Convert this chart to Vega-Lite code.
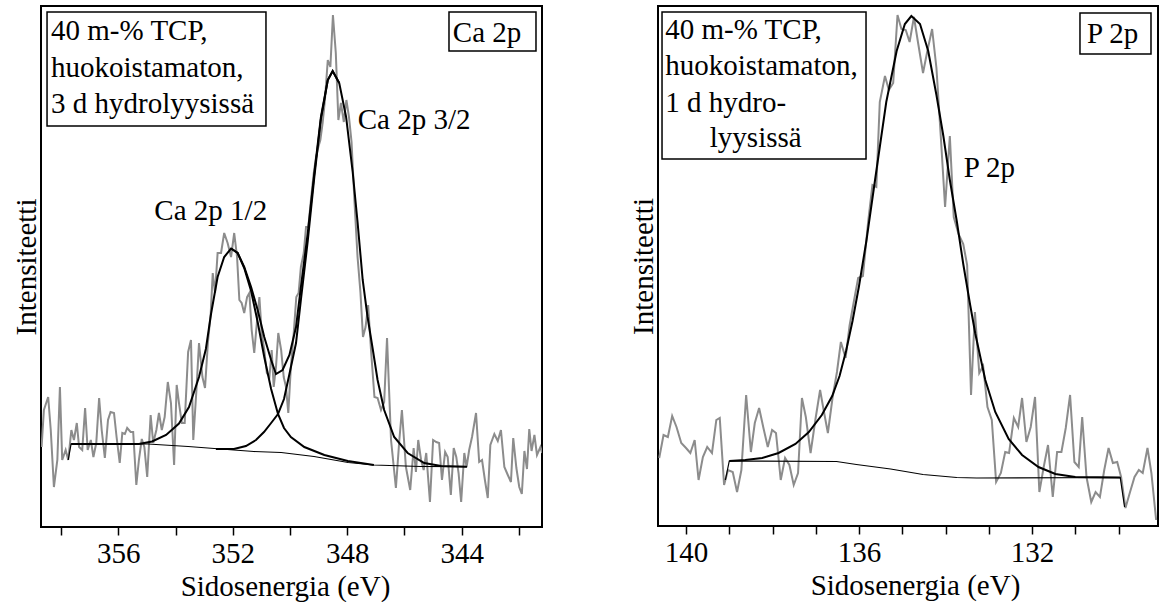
{
"$schema": "https://vega.github.io/schema/vega-lite/v6.json",
"background": "white",
"padding": {"left": 11, "top": 5, "right": 0, "bottom": 0},
"spacing": 85,
"config": {
 "view": {"stroke": "black", "strokeWidth": 2},
 "axis": {"labelFont": "Liberation Serif", "titleFont": "Liberation Serif", "labelFontSize": 29, "titleFontSize": 29, "titleFontWeight": "normal", "labelColor": "black", "titleColor": "black", "tickColor": "black", "grid": false},
 "text": {"font": "Liberation Serif"}
},
"datasets": {
 "ca": [
{"e":358.68,"i":80,"s":"d"},{"e":358.60,"i":117,"s":"d"},{"e":358.45,"i":130,"s":"d"},{"e":358.36,"i":97,"s":"d"},{"e":358.25,"i":40,"s":"d"},{"e":358.13,"i":67,"s":"d"},{"e":358.04,"i":140,"s":"d"},{"e":357.96,"i":67,"s":"d"},{"e":357.84,"i":77,"s":"d"},{"e":357.75,"i":67,"s":"d"},{"e":357.64,"i":97,"s":"d"},{"e":357.55,"i":87,"s":"d"},{"e":357.45,"i":104,"s":"d"},{"e":357.37,"i":80,"s":"d"},{"e":357.26,"i":77,"s":"d"},{"e":357.16,"i":119,"s":"d"},{"e":357.07,"i":77,"s":"d"},{"e":356.96,"i":87,"s":"d"},{"e":356.87,"i":70,"s":"d"},{"e":356.77,"i":84,"s":"d"},{"e":356.67,"i":129,"s":"d"},{"e":356.58,"i":97,"s":"d"},{"e":356.47,"i":69,"s":"d"},{"e":356.36,"i":107,"s":"d"},{"e":356.27,"i":115,"s":"d"},{"e":356.15,"i":114,"s":"d"},{"e":356.06,"i":90,"s":"d"},{"e":355.95,"i":64,"s":"d"},{"e":355.86,"i":94,"s":"d"},{"e":355.77,"i":93,"s":"d"},{"e":355.69,"i":99,"s":"d"},{"e":355.57,"i":95,"s":"d"},{"e":355.48,"i":95,"s":"d"},{"e":355.37,"i":42,"s":"d"},{"e":355.28,"i":67,"s":"d"},{"e":355.18,"i":88,"s":"d"},{"e":355.09,"i":80,"s":"d"},{"e":354.99,"i":50,"s":"d"},{"e":354.87,"i":112,"s":"d"},{"e":354.78,"i":84,"s":"d"},{"e":354.67,"i":97,"s":"d"},{"e":354.58,"i":114,"s":"d"},{"e":354.48,"i":97,"s":"d"},{"e":354.38,"i":110,"s":"d"},{"e":354.27,"i":145,"s":"d"},{"e":354.16,"i":124,"s":"d"},{"e":354.05,"i":62,"s":"d"},{"e":353.96,"i":142,"s":"d"},{"e":353.88,"i":124,"s":"d"},{"e":353.78,"i":104,"s":"d"},{"e":353.68,"i":104,"s":"d"},{"e":353.56,"i":175,"s":"d"},{"e":353.46,"i":187,"s":"d"},{"e":353.38,"i":87,"s":"d"},{"e":353.27,"i":137,"s":"d"},{"e":353.18,"i":184,"s":"d"},{"e":353.06,"i":150,"s":"d"},{"e":352.97,"i":139,"s":"d"},{"e":352.87,"i":184,"s":"d"},{"e":352.77,"i":214,"s":"d"},{"e":352.70,"i":254,"s":"d"},{"e":352.62,"i":234,"s":"d"},{"e":352.53,"i":274,"s":"d"},{"e":352.41,"i":274,"s":"d"},{"e":352.30,"i":294,"s":"d"},{"e":352.18,"i":284,"s":"d"},{"e":352.06,"i":270,"s":"d"},{"e":351.95,"i":294,"s":"d"},{"e":351.85,"i":270,"s":"d"},{"e":351.77,"i":227,"s":"d"},{"e":351.69,"i":224,"s":"d"},{"e":351.60,"i":214,"s":"d"},{"e":351.50,"i":230,"s":"d"},{"e":351.42,"i":234,"s":"d"},{"e":351.34,"i":197,"s":"d"},{"e":351.25,"i":174,"s":"d"},{"e":351.15,"i":207,"s":"d"},{"e":351.07,"i":230,"s":"d"},{"e":350.99,"i":194,"s":"d"},{"e":350.90,"i":177,"s":"d"},{"e":350.81,"i":154,"s":"d"},{"e":350.72,"i":150,"s":"d"},{"e":350.64,"i":177,"s":"d"},{"e":350.57,"i":140,"s":"d"},{"e":350.49,"i":160,"s":"d"},{"e":350.41,"i":194,"s":"d"},{"e":350.31,"i":177,"s":"d"},{"e":350.22,"i":150,"s":"d"},{"e":350.14,"i":140,"s":"d"},{"e":350.06,"i":114,"s":"d"},{"e":349.97,"i":160,"s":"d"},{"e":349.87,"i":194,"s":"d"},{"e":349.78,"i":230,"s":"d"},{"e":349.70,"i":234,"s":"d"},{"e":349.62,"i":260,"s":"d"},{"e":349.52,"i":274,"s":"d"},{"e":349.44,"i":300,"s":"d"},{"e":349.36,"i":300,"s":"d"},{"e":349.27,"i":327,"s":"d"},{"e":349.17,"i":354,"s":"d"},{"e":349.09,"i":370,"s":"d"},{"e":349.01,"i":380,"s":"d"},{"e":348.94,"i":387,"s":"d"},{"e":348.86,"i":404,"s":"d"},{"e":348.78,"i":427,"s":"d"},{"e":348.68,"i":467,"s":"d"},{"e":348.59,"i":460,"s":"d"},{"e":348.50,"i":512,"s":"d"},{"e":348.40,"i":474,"s":"d"},{"e":348.31,"i":407,"s":"d"},{"e":348.22,"i":424,"s":"d"},{"e":348.12,"i":405,"s":"d"},{"e":348.03,"i":427,"s":"d"},{"e":347.94,"i":410,"s":"d"},{"e":347.85,"i":385,"s":"d"},{"e":347.75,"i":327,"s":"d"},{"e":347.64,"i":270,"s":"d"},{"e":347.54,"i":235,"s":"d"},{"e":347.45,"i":190,"s":"d"},{"e":347.36,"i":200,"s":"d"},{"e":347.27,"i":222,"s":"d"},{"e":347.17,"i":177,"s":"d"},{"e":347.05,"i":130,"s":"d"},{"e":346.94,"i":129,"s":"d"},{"e":346.82,"i":117,"s":"d"},{"e":346.71,"i":125,"s":"d"},{"e":346.61,"i":189,"s":"d"},{"e":346.47,"i":87,"s":"d"},{"e":346.30,"i":39,"s":"d"},{"e":346.18,"i":87,"s":"d"},{"e":346.09,"i":117,"s":"d"},{"e":345.95,"i":60,"s":"d"},{"e":345.80,"i":37,"s":"d"},{"e":345.68,"i":79,"s":"d"},{"e":345.60,"i":55,"s":"d"},{"e":345.52,"i":87,"s":"d"},{"e":345.42,"i":67,"s":"d"},{"e":345.33,"i":57,"s":"d"},{"e":345.24,"i":74,"s":"d"},{"e":345.11,"i":25,"s":"d"},{"e":345.00,"i":87,"s":"d"},{"e":344.89,"i":85,"s":"d"},{"e":344.79,"i":84,"s":"d"},{"e":344.69,"i":47,"s":"d"},{"e":344.58,"i":75,"s":"d"},{"e":344.49,"i":70,"s":"d"},{"e":344.38,"i":32,"s":"d"},{"e":344.28,"i":79,"s":"d"},{"e":344.19,"i":70,"s":"d"},{"e":344.11,"i":54,"s":"d"},{"e":344.02,"i":25,"s":"d"},{"e":343.91,"i":74,"s":"d"},{"e":343.83,"i":60,"s":"d"},{"e":343.74,"i":77,"s":"d"},{"e":343.64,"i":90,"s":"d"},{"e":343.50,"i":114,"s":"d"},{"e":343.39,"i":65,"s":"d"},{"e":343.29,"i":67,"s":"d"},{"e":343.19,"i":47,"s":"d"},{"e":343.09,"i":29,"s":"d"},{"e":343.00,"i":82,"s":"d"},{"e":342.86,"i":93,"s":"d"},{"e":342.74,"i":86,"s":"d"},{"e":342.63,"i":97,"s":"d"},{"e":342.51,"i":60,"s":"d"},{"e":342.39,"i":52,"s":"d"},{"e":342.28,"i":45,"s":"d"},{"e":342.20,"i":89,"s":"d"},{"e":342.09,"i":59,"s":"d"},{"e":341.99,"i":40,"s":"d"},{"e":341.90,"i":33,"s":"d"},{"e":341.81,"i":76,"s":"d"},{"e":341.72,"i":58,"s":"d"},{"e":341.64,"i":98,"s":"d"},{"e":341.56,"i":76,"s":"d"},{"e":341.46,"i":92,"s":"d"},{"e":341.37,"i":72,"s":"d"},{"e":341.25,"i":80,"s":"d"},{"e":341.19,"i":74,"s":"d"},
{"e":357.65,"i":83,"s":"f"},{"e":355.28,"i":83,"s":"f"},{"e":354.82,"i":85.5,"s":"f"},{"e":354.33,"i":92,"s":"f"},{"e":353.88,"i":103.5,"s":"f"},{"e":353.53,"i":120,"s":"f"},{"e":353.18,"i":150,"s":"f"},{"e":352.94,"i":178,"s":"f"},{"e":352.76,"i":213,"s":"f"},{"e":352.53,"i":250,"s":"f"},{"e":352.30,"i":270,"s":"f"},{"e":352.06,"i":278.5,"s":"f"},{"e":351.83,"i":274,"s":"f"},{"e":351.60,"i":260,"s":"f"},{"e":351.36,"i":240,"s":"f"},{"e":351.13,"i":217,"s":"f"},{"e":350.90,"i":190,"s":"f"},{"e":350.66,"i":167,"s":"f"},{"e":350.49,"i":153,"s":"f"},{"e":350.26,"i":157,"s":"f"},{"e":350.02,"i":172,"s":"f"},{"e":349.79,"i":200,"s":"f"},{"e":349.62,"i":240,"s":"f"},{"e":349.38,"i":294,"s":"f"},{"e":349.15,"i":354,"s":"f"},{"e":348.92,"i":410,"s":"f"},{"e":348.68,"i":447,"s":"f"},{"e":348.51,"i":456,"s":"f"},{"e":348.28,"i":444,"s":"f"},{"e":348.04,"i":410,"s":"f"},{"e":347.81,"i":355,"s":"f"},{"e":347.64,"i":305,"s":"f"},{"e":347.46,"i":247,"s":"f"},{"e":347.29,"i":210,"s":"f"},{"e":347.11,"i":178,"s":"f"},{"e":346.94,"i":147,"s":"f"},{"e":346.71,"i":117,"s":"f"},{"e":346.36,"i":90,"s":"f"},{"e":345.89,"i":74,"s":"f"},{"e":345.31,"i":64,"s":"f"},{"e":344.72,"i":61,"s":"f"},{"e":343.82,"i":60.3,"s":"f"},
{"e":352.06,"i":278.5,"s":"c1"},{"e":351.83,"i":274,"s":"c1"},{"e":351.60,"i":259,"s":"c1"},{"e":351.36,"i":236,"s":"c1"},{"e":351.13,"i":205,"s":"c1"},{"e":350.90,"i":170,"s":"c1"},{"e":350.66,"i":138,"s":"c1"},{"e":350.42,"i":113,"s":"c1"},{"e":350.21,"i":99,"s":"c1"},{"e":349.97,"i":90,"s":"c1"},{"e":349.50,"i":80,"s":"c1"},{"e":348.80,"i":72,"s":"c1"},{"e":347.98,"i":66,"s":"c1"},{"e":347.07,"i":62,"s":"c1"},
{"e":352.59,"i":78,"s":"c2"},{"e":351.96,"i":78,"s":"c2"},{"e":351.54,"i":81,"s":"c2"},{"e":351.19,"i":87,"s":"c2"},{"e":350.91,"i":95,"s":"c2"},{"e":350.66,"i":104,"s":"c2"},{"e":350.42,"i":113,"s":"c2"},{"e":350.21,"i":128,"s":"c2"},{"e":350.02,"i":153,"s":"c2"},{"e":349.79,"i":184,"s":"c2"},{"e":349.62,"i":227,"s":"c2"},{"e":349.38,"i":286,"s":"c2"},{"e":349.15,"i":350,"s":"c2"},{"e":348.92,"i":408,"s":"c2"},{"e":348.68,"i":447,"s":"c2"},{"e":348.51,"i":456,"s":"c2"},{"e":348.28,"i":444,"s":"c2"},
{"e":357.75,"i":67,"s":"bg"},{"e":357.65,"i":83,"s":"bg"},{"e":354.96,"i":83,"s":"bg"},{"e":353.56,"i":80.5,"s":"bg"},{"e":351.96,"i":77,"s":"bg"},{"e":351.26,"i":75.5,"s":"bg"},{"e":350.31,"i":74.5,"s":"bg"},{"e":349.16,"i":70.5,"s":"bg"},{"e":347.97,"i":64.5,"s":"bg"},{"e":347.07,"i":62,"s":"bg"},{"e":345.42,"i":60.5,"s":"bg"},{"e":343.82,"i":60.3,"s":"bg"}
 ],
 "p": [
{"e":140.62,"i":68,"s":"d"},{"e":140.52,"i":91,"s":"d"},{"e":140.42,"i":89,"s":"d"},{"e":140.32,"i":110,"s":"d"},{"e":140.22,"i":99,"s":"d"},{"e":140.11,"i":83,"s":"d"},{"e":140.00,"i":78,"s":"d"},{"e":139.90,"i":73,"s":"d"},{"e":139.80,"i":86,"s":"d"},{"e":139.71,"i":46,"s":"d"},{"e":139.61,"i":69,"s":"d"},{"e":139.51,"i":79,"s":"d"},{"e":139.40,"i":73,"s":"d"},{"e":139.30,"i":106,"s":"d"},{"e":139.22,"i":108,"s":"d"},{"e":139.12,"i":41,"s":"d"},{"e":139.03,"i":56,"s":"d"},{"e":138.92,"i":54,"s":"d"},{"e":138.82,"i":34,"s":"d"},{"e":138.72,"i":56,"s":"d"},{"e":138.61,"i":131,"s":"d"},{"e":138.50,"i":74,"s":"d"},{"e":138.41,"i":103,"s":"d"},{"e":138.31,"i":118,"s":"d"},{"e":138.21,"i":98,"s":"d"},{"e":138.11,"i":79,"s":"d"},{"e":138.01,"i":96,"s":"d"},{"e":137.92,"i":93,"s":"d"},{"e":137.81,"i":46,"s":"d"},{"e":137.71,"i":68,"s":"d"},{"e":137.61,"i":61,"s":"d"},{"e":137.51,"i":41,"s":"d"},{"e":137.41,"i":53,"s":"d"},{"e":137.32,"i":128,"s":"d"},{"e":137.23,"i":109,"s":"d"},{"e":137.12,"i":73,"s":"d"},{"e":137.01,"i":106,"s":"d"},{"e":136.90,"i":136,"s":"d"},{"e":136.81,"i":114,"s":"d"},{"e":136.72,"i":93,"s":"d"},{"e":136.61,"i":129,"s":"d"},{"e":136.51,"i":154,"s":"d"},{"e":136.42,"i":184,"s":"d"},{"e":136.31,"i":168,"s":"d"},{"e":136.22,"i":200,"s":"d"},{"e":136.13,"i":222,"s":"d"},{"e":136.02,"i":248,"s":"d"},{"e":135.91,"i":250,"s":"d"},{"e":135.79,"i":304,"s":"d"},{"e":135.69,"i":341,"s":"d"},{"e":135.60,"i":339,"s":"d"},{"e":135.52,"i":424,"s":"d"},{"e":135.40,"i":450,"s":"d"},{"e":135.31,"i":436,"s":"d"},{"e":135.21,"i":443,"s":"d"},{"e":135.11,"i":511,"s":"d"},{"e":135.02,"i":497,"s":"d"},{"e":134.92,"i":496,"s":"d"},{"e":134.83,"i":484,"s":"d"},{"e":134.73,"i":509,"s":"d"},{"e":134.63,"i":482,"s":"d"},{"e":134.52,"i":453,"s":"d"},{"e":134.42,"i":475,"s":"d"},{"e":134.31,"i":497,"s":"d"},{"e":134.21,"i":458,"s":"d"},{"e":134.11,"i":390,"s":"d"},{"e":134.01,"i":319,"s":"d"},{"e":133.90,"i":390,"s":"d"},{"e":133.81,"i":309,"s":"d"},{"e":133.70,"i":292,"s":"d"},{"e":133.59,"i":282,"s":"d"},{"e":133.50,"i":261,"s":"d"},{"e":133.41,"i":131,"s":"d"},{"e":133.32,"i":214,"s":"d"},{"e":133.22,"i":153,"s":"d"},{"e":133.13,"i":160,"s":"d"},{"e":133.03,"i":119,"s":"d"},{"e":132.93,"i":106,"s":"d"},{"e":132.83,"i":44,"s":"d"},{"e":132.72,"i":53,"s":"d"},{"e":132.62,"i":74,"s":"d"},{"e":132.53,"i":73,"s":"d"},{"e":132.42,"i":108,"s":"d"},{"e":132.32,"i":99,"s":"d"},{"e":132.23,"i":128,"s":"d"},{"e":132.13,"i":84,"s":"d"},{"e":132.03,"i":99,"s":"d"},{"e":131.93,"i":129,"s":"d"},{"e":131.83,"i":34,"s":"d"},{"e":131.73,"i":59,"s":"d"},{"e":131.63,"i":81,"s":"d"},{"e":131.52,"i":29,"s":"d"},{"e":131.42,"i":74,"s":"d"},{"e":131.32,"i":74,"s":"d"},{"e":131.22,"i":98,"s":"d"},{"e":131.12,"i":131,"s":"d"},{"e":131.02,"i":64,"s":"d"},{"e":130.92,"i":59,"s":"d"},{"e":130.84,"i":109,"s":"d"},{"e":130.74,"i":49,"s":"d"},{"e":130.63,"i":24,"s":"d"},{"e":130.53,"i":34,"s":"d"},{"e":130.43,"i":29,"s":"d"},{"e":130.33,"i":56,"s":"d"},{"e":130.23,"i":78,"s":"d"},{"e":130.13,"i":63,"s":"d"},{"e":130.03,"i":64,"s":"d"},{"e":129.94,"i":49,"s":"d"},{"e":129.84,"i":18,"s":"d"},{"e":129.74,"i":33,"s":"d"},{"e":129.63,"i":49,"s":"d"},{"e":129.53,"i":56,"s":"d"},{"e":129.44,"i":53,"s":"d"},{"e":129.33,"i":78,"s":"d"},{"e":129.24,"i":53,"s":"d"},{"e":129.13,"i":6,"s":"d"},
{"e":139.00,"i":65,"s":"f"},{"e":138.63,"i":66,"s":"f"},{"e":138.24,"i":68,"s":"f"},{"e":137.86,"i":73,"s":"f"},{"e":137.47,"i":82,"s":"f"},{"e":137.16,"i":94,"s":"f"},{"e":136.86,"i":111,"s":"f"},{"e":136.62,"i":130,"s":"f"},{"e":136.45,"i":150,"s":"f"},{"e":136.30,"i":175,"s":"f"},{"e":136.15,"i":205,"s":"f"},{"e":136.00,"i":240,"s":"f"},{"e":135.83,"i":285,"s":"f"},{"e":135.60,"i":355,"s":"f"},{"e":135.37,"i":424,"s":"f"},{"e":135.13,"i":475,"s":"f"},{"e":134.94,"i":502,"s":"f"},{"e":134.79,"i":510,"s":"f"},{"e":134.59,"i":502,"s":"f"},{"e":134.40,"i":475,"s":"f"},{"e":134.21,"i":431,"s":"f"},{"e":134.05,"i":390,"s":"f"},{"e":133.90,"i":346,"s":"f"},{"e":133.74,"i":305,"s":"f"},{"e":133.59,"i":262,"s":"f"},{"e":133.43,"i":221,"s":"f"},{"e":133.31,"i":192,"s":"f"},{"e":133.08,"i":146,"s":"f"},{"e":132.85,"i":114,"s":"f"},{"e":132.54,"i":87,"s":"f"},{"e":132.23,"i":71,"s":"f"},{"e":131.85,"i":59,"s":"f"},{"e":131.46,"i":52,"s":"f"},{"e":131.00,"i":49,"s":"f"},{"e":129.96,"i":48.5,"s":"f"},
{"e":139.09,"i":46,"s":"bg"},{"e":139.00,"i":65,"s":"bg"},{"e":136.52,"i":64.5,"s":"bg"},{"e":136.06,"i":61.5,"s":"bg"},{"e":135.27,"i":57,"s":"bg"},{"e":134.52,"i":51.5,"s":"bg"},{"e":133.74,"i":48.5,"s":"bg"},{"e":133.28,"i":48,"s":"bg"},{"e":129.96,"i":48.5,"s":"bg"},{"e":129.86,"i":19,"s":"bg"}
 ],
 "caBox": [{"e":358.49,"e2":350.84,"i":515,"i2":401},{"e":344.445,"e2":341.405,"i":515,"i2":476}],
 "caText": [{"e":358.35,"i":487,"t":"40 m-% TCP,"},{"e":358.35,"i":450,"t":"huokoistamaton,"},{"e":358.35,"i":414,"t":"3 d hydrolyysissä"},{"e":354.74,"i":307,"t":"Ca 2p 1/2"},{"e":347.635,"i":397.7,"t":"Ca 2p 3/2"},{"e":344.31,"i":485.3,"t":"Ca 2p"}],
 "pBox": [{"e":140.555,"e2":135.838,"i":514,"i2":367},{"e":130.891,"e2":129.249,"i":513,"i2":472}],
 "pText": [{"e":140.48,"i":486.7,"t":"40 m-% TCP,"},{"e":140.48,"i":451,"t":"huokoistamaton,"},{"e":140.48,"i":414.3,"t":"1 d hydro-"},{"e":139.45,"i":379.3,"t":"lyysissä"},{"e":133.58,"i":349.3,"t":"P 2p"},{"e":130.73,"i":482.7,"t":"P 2p"}]
},
"hconcat": [
 {
  "width": 501, "height": 521,
  "encoding": {
   "x": {"field": "e", "type": "quantitative",
    "scale": {"domain": [341.195, 358.701], "reverse": true, "nice": false, "zero": false},
    "axis": {"title": "Sidosenergia (eV)", "values": [342,344,346,348,350,352,354,356,358], "labelExpr": "datum.value % 4 == 0 ? datum.label : ''", "tickSize": 8, "tickWidth": 1.5, "domain": false, "labelPadding": 4, "titlePadding": 4, "labelOverlap": false, "labelFlush": false, "titleX": 244}},
   "y": {"field": "i", "type": "quantitative",
    "scale": {"domain": [0, 521], "nice": false, "zero": false},
    "axis": {"title": "Intensiteetti", "labels": false, "ticks": false, "domain": false, "titlePadding": 0}}
  },
  "layer": [
   {"data": {"name": "ca"}, "transform": [{"filter": "datum.s == 'd'"}], "mark": {"type": "line", "color": "#8c8c8c", "strokeWidth": 2, "clip": true}},
   {"data": {"name": "ca"}, "transform": [{"filter": "datum.s == 'bg'"}], "mark": {"type": "line", "color": "black", "strokeWidth": 1.2, "clip": true}},
   {"data": {"name": "ca"}, "transform": [{"filter": "datum.s == 'f' || datum.s == 'c1' || datum.s == 'c2'"}], "mark": {"type": "line", "color": "black", "strokeWidth": 2, "clip": true}, "encoding": {"detail": {"field": "s"}}},
   {"data": {"name": "caBox"}, "mark": {"type": "rect", "filled": false, "color": "black", "strokeWidth": 1.5}, "encoding": {"x2": {"field": "e2"}, "y2": {"field": "i2"}}},
   {"data": {"name": "caText"}, "mark": {"type": "text", "align": "left", "baseline": "alphabetic", "font": "Liberation Serif", "fontSize": 29, "color": "black"}, "encoding": {"text": {"field": "t"}}}
  ]
 },
 {
  "width": 500, "height": 520,
  "encoding": {
   "x": {"field": "e", "type": "quantitative",
    "scale": {"domain": [129.087, 140.648], "reverse": true, "nice": false, "zero": false},
    "axis": {"title": "Sidosenergia (eV)", "values": [130,131,132,133,134,135,136,137,138,139,140], "labelExpr": "datum.value % 4 == 0 ? datum.label : ''", "tickSize": 8, "tickWidth": 1.5, "domain": false, "labelPadding": 4, "titlePadding": 4, "labelOverlap": false, "labelFlush": false, "titleX": 257}},
   "y": {"field": "i", "type": "quantitative",
    "scale": {"domain": [0, 520], "nice": false, "zero": false},
    "axis": {"title": "Intensiteetti", "labels": false, "ticks": false, "domain": false, "titlePadding": 0}}
  },
  "layer": [
   {"data": {"name": "p"}, "transform": [{"filter": "datum.s == 'd'"}], "mark": {"type": "line", "color": "#8c8c8c", "strokeWidth": 2, "clip": true}},
   {"data": {"name": "p"}, "transform": [{"filter": "datum.s == 'bg'"}], "mark": {"type": "line", "color": "black", "strokeWidth": 1.2, "clip": true}},
   {"data": {"name": "p"}, "transform": [{"filter": "datum.s == 'f'"}], "mark": {"type": "line", "color": "black", "strokeWidth": 2, "clip": true}},
   {"data": {"name": "pBox"}, "mark": {"type": "rect", "filled": false, "color": "black", "strokeWidth": 1.5}, "encoding": {"x2": {"field": "e2"}, "y2": {"field": "i2"}}},
   {"data": {"name": "pText"}, "mark": {"type": "text", "align": "left", "baseline": "alphabetic", "font": "Liberation Serif", "fontSize": 29, "color": "black"}, "encoding": {"text": {"field": "t"}}}
  ]
 }
]
}
